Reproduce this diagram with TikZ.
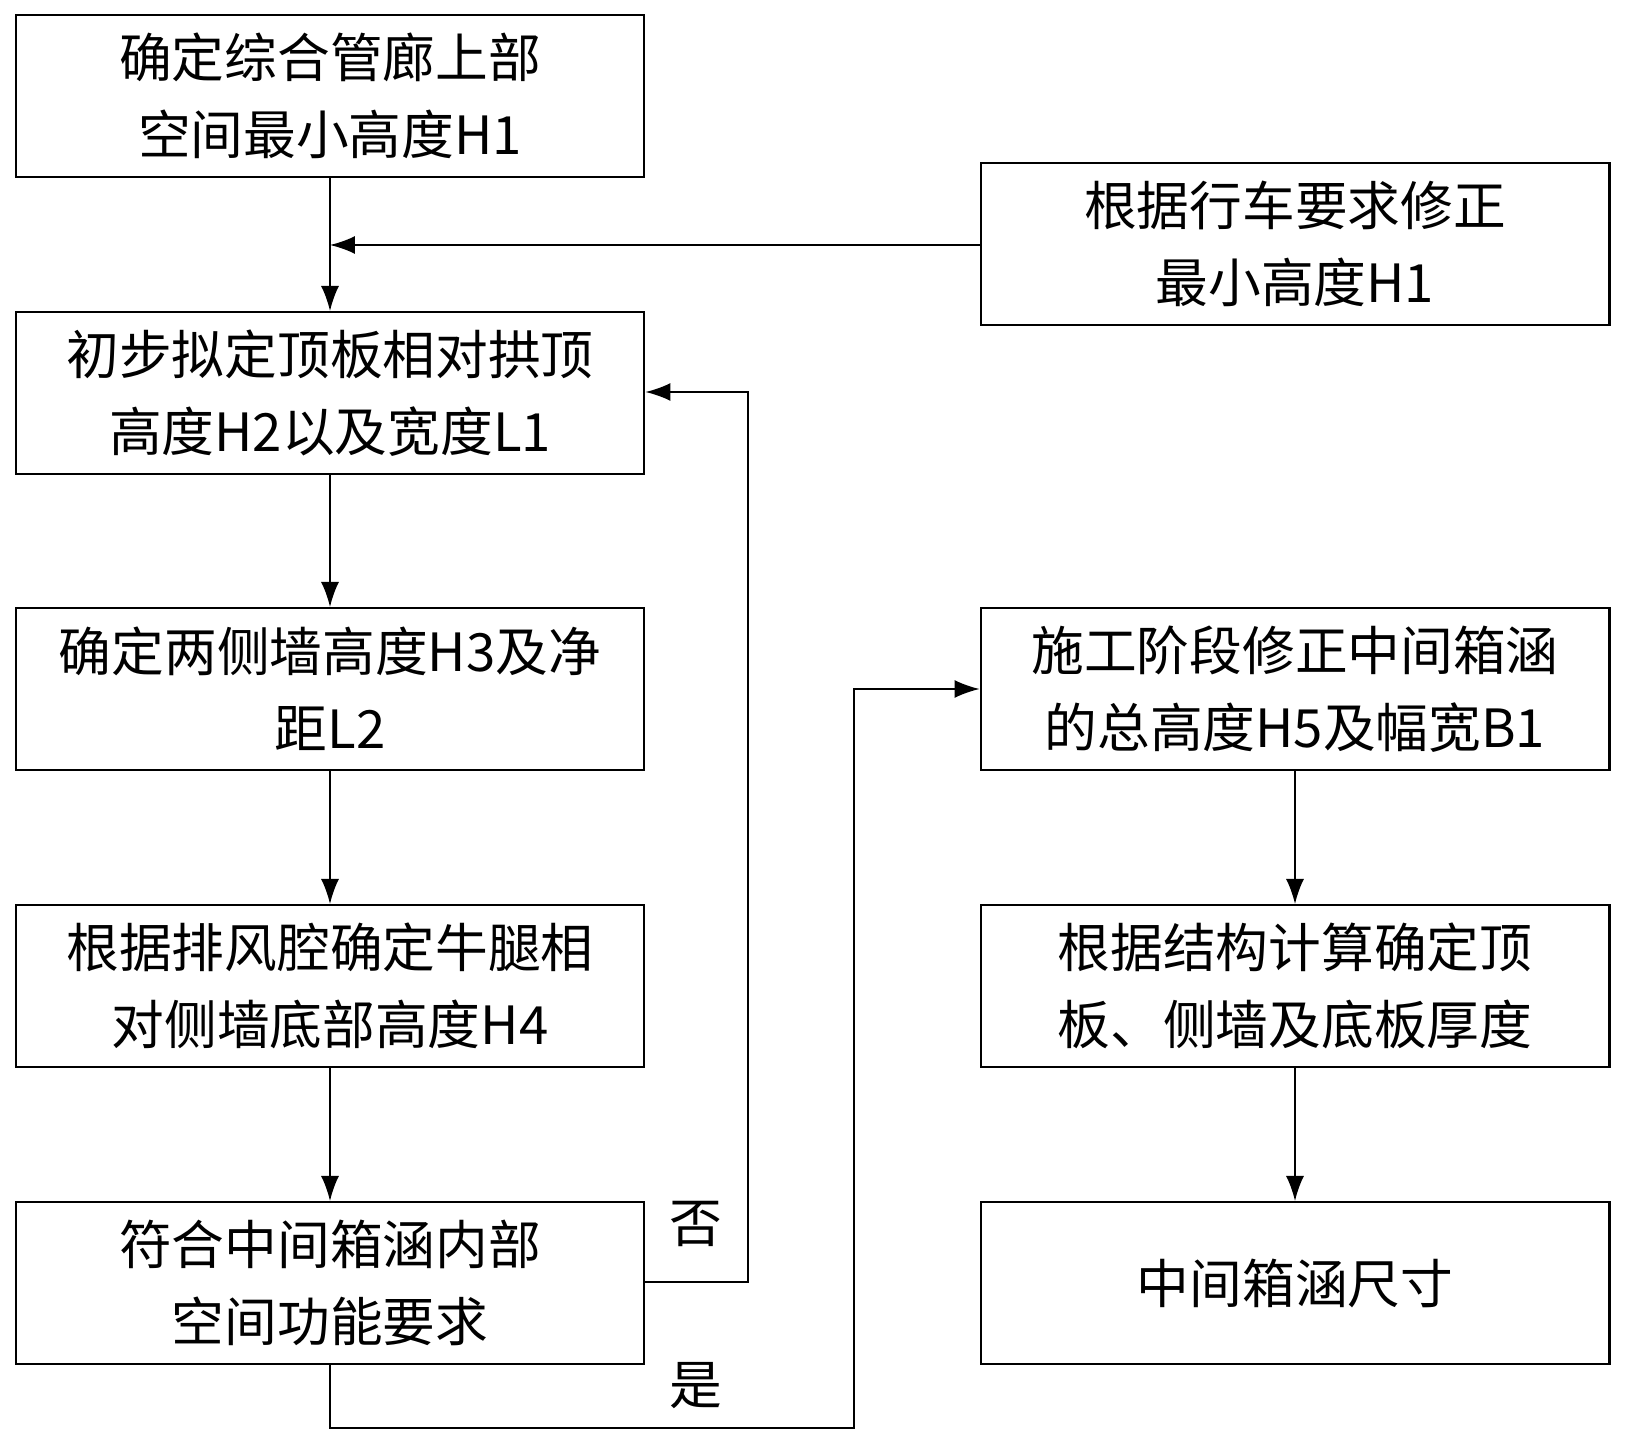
\documentclass[tikz,border=0pt]{standalone}
\usepackage{fontspec}
\setmainfont{Noto Sans CJK SC}
\usetikzlibrary{positioning, arrows.meta}

\begin{document}
\begin{tikzpicture}[x=0.02cm, y=-0.02cm,
	box/.style={draw, line width=1.2pt, minimum width=12.58cm, minimum height=3.24cm, align=center, inner sep=0pt, font=\fontsize{30}{44}\selectfont},
	arr/.style={-{Latex[length=0.5cm, width=0.36cm]}, line width=1pt},
	lbl/.style={font=\fontsize{30}{36}\selectfont}]

			\useasboundingbox (0,0) rectangle (1627,1439);
			% Left column
			\node[box] (upper) at (330,96)   {确定综合管廊上部\\空间最小高度H1};
			\node[box] (arch)  at (330,393)  {初步拟定顶板相对拱顶\\高度H2以及宽度L1};
			\node[box] (wall)  at (330,689)  {确定两侧墙高度H3及净\\距L2};
			\node[box] (corb)  at (330,986)  {根据排风腔确定牛腿相\\对侧墙底部高度H4};
			\node[box] (check) at (330,1283) {符合中间箱涵内部\\空间功能要求};
			% Right column
			\node[box] (drive) at (1295,244)  {根据行车要求修正\\最小高度H1};
			\node[box] (stage) at (1295,689)  {施工阶段修正中间箱涵\\的总高度H5及幅宽B1};
			\node[box] (thick) at (1295,986)  {根据结构计算确定顶\\板、侧墙及底板厚度};
			\node[box] (size)  at (1295,1283) {中间箱涵尺寸};
			% Joints
			\coordinate (join) at (330,245);
			\coordinate (nocorner1) at (748,1282);
			\coordinate (nocorner2) at (748,392);
			\coordinate (yescorner1) at (330,1428);
			\coordinate (yescorner2) at (854,1428);
			\coordinate (yescorner3) at (854,689);
			% Arrows
			\draw[arr] (upper.south) -- (arch.north);
			\draw[arr] (drive.west |- join) -- (join);
			\draw[arr] (arch) -- (wall);
			\draw[arr] (wall) -- (corb);
			\draw[arr] (corb) -- (check);
			\draw[arr] (stage) -- (thick);
			\draw[arr] (thick) -- (size);
			% Loops
			\draw[arr] (check.east |- nocorner1) -- (nocorner1) -- (nocorner2) -- (arch.east |- nocorner2);
			\draw[arr] (check.south) -- (yescorner1) -- (yescorner2) -- (yescorner3) -- (stage.west);
			\node[lbl] (no)  at (696,1224) {否};
			\node[lbl] (yes) at (696,1386) {是};
		\end{tikzpicture}
\end{document}
